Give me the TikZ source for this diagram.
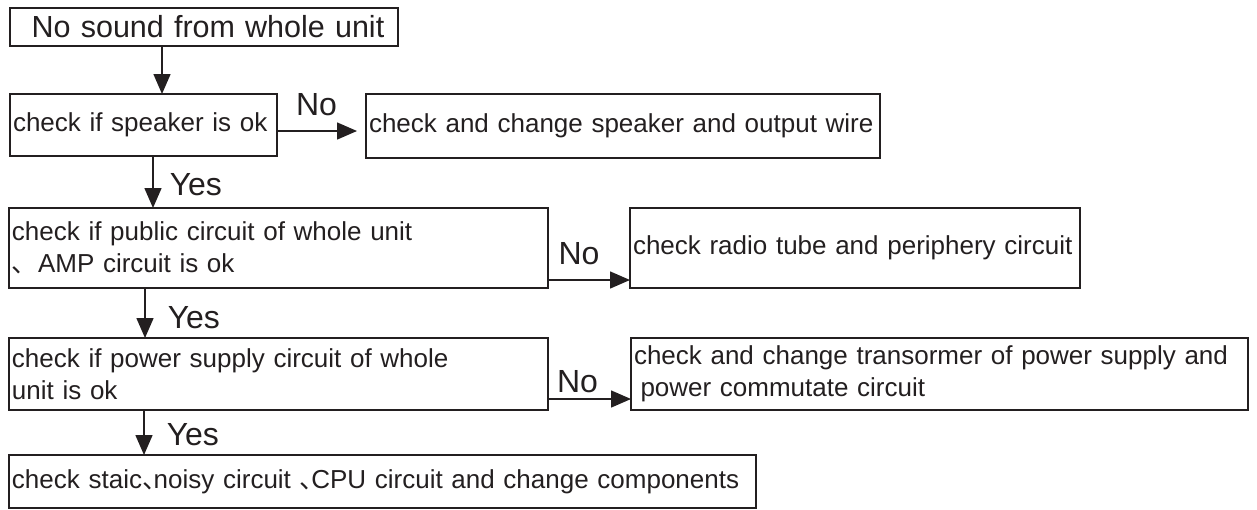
\documentclass[tikz,border=0pt]{standalone}
\usepackage{fontspec}
\setmainfont{Liberation Sans}
\newfontfamily\cjk{Noto Sans CJK SC}
\usetikzlibrary{arrows.meta, positioning, calc}
\definecolor{inkline}{HTML}{231F20}
\newcommand{\dunhao}{{\cjk 、}}
\newcommand{\dunslim}{\makebox[0.45em][l]{\cjk 、}}

\begin{document}
\begin{tikzpicture}[x=1pt, y=-1pt, font=\fontsize{26}{32}\selectfont,
  box/.style={draw=inkline, text=inkline, line width=1.5pt, anchor=north west,
              inner xsep=3pt, inner ysep=0pt, outer sep=0pt, align=left},
  arr/.style={draw=inkline, line width=1.5pt, -{Triangle[length=20pt, width=17pt]}},
  lab/.style={text=inkline, font=\fontsize{32}{36}\selectfont, inner sep=0pt}]
  \useasboundingbox (0,0) rectangle (1257,509);
  % boxes
  \node[box, align=center, text width=382pt, minimum height=38pt,
        font=\fontsize{30.5}{36}\selectfont] (start) at (10,8)
    {\hspace{8pt}No sound from whole unit};
  \node[box, text width=261pt, minimum height=62pt] (spk) at (10,94)
    {check if speaker is ok};
  \node[box, text width=508pt, minimum height=64pt] (chgspk) at (366,94)
    {check and change speaker and output wire};
  \node[box, text width=533pt, minimum height=80pt] (pub) at (9,208)
    {check if public circuit of whole unit\\\dunhao AMP circuit is ok};
  \node[box, text width=444pt, minimum height=80pt] (tube) at (630,208)
    {check radio tube and periphery circuit};
  \node[box, text width=533pt, minimum height=72pt] (pwr) at (9,338)
    {check if power supply circuit of whole\\unit is ok};
  \node[box, text width=611pt, minimum height=72pt] (trans) at (631,338)
    {check and change transormer of power supply and\\\hspace{0.25em}power commutate circuit};
  \node[box, text width=741pt, minimum height=53pt] (chk) at (9,455)
    {check staic\dunslim noisy circuit \dunslim CPU circuit and change components};
  % flow down
  \draw[arr] ([xshift=152pt]start.south west) -- ([xshift=152pt]spk.north west);
  \draw[arr] ([xshift=143pt]spk.south west) -- node[lab, right=16pt, pos=0.55] {Yes}
    ([xshift=144pt]pub.north west);
  \draw[arr] ([xshift=136pt]pub.south west) -- node[lab, right=22pt, pos=0.6] {Yes}
    ([xshift=136pt]pwr.north west);
  \draw[arr] ([xshift=135pt]pwr.south west) -- node[lab, right=22pt, pos=0.55] {Yes}
    ([xshift=135pt]chk.north west);
  % flow right
  \draw[arr, shorten >=9pt] ([yshift=-6pt]spk.east) -- node[lab, above=14pt, xshift=-5pt] {No}
    ([yshift=-6pt]spk.east -| chgspk.west);
  \draw[arr] ([yshift=8pt]pub.south east) -- node[lab, above=14pt, xshift=-10pt] {No}
    ([yshift=8pt]tube.south west);
  \draw[arr] ([yshift=11pt]pwr.south east) -- node[lab, above=5pt, xshift=-12pt] {No}
    ([yshift=11pt]trans.south west);
\end{tikzpicture}
\end{document}
